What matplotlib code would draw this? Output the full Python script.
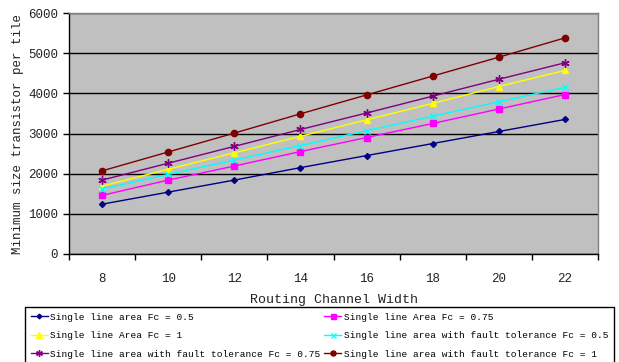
import matplotlib
matplotlib.use("Agg")
import matplotlib.pyplot as plt
from matplotlib.ticker import FixedLocator, NullFormatter

# Routing channel widths (categories on the x axis)
channel_width = [8, 10, 12, 14, 16, 18, 20, 22]

# Minimum size transistors per tile for each configuration
area_fc_05 = [1240, 1540, 1840, 2150, 2450, 2750, 3050, 3350]
area_fc_075 = [1460, 1840, 2190, 2550, 2900, 3250, 3610, 3970]
area_fc_1 = [1690, 2110, 2520, 2930, 3340, 3750, 4170, 4570]
ft_fc_05 = [1620, 1980, 2340, 2700, 3070, 3430, 3790, 4150]
ft_fc_075 = [1840, 2260, 2680, 3100, 3510, 3930, 4350, 4760]
ft_fc_1 = [2070, 2540, 3010, 3490, 3960, 4430, 4900, 5380]

series_labels = [
    "Single line area Fc = 0.5",
    "Single line Area Fc = 0.75",
    "Single line Area Fc = 1",
    "Single line area with fault tolerance Fc = 0.5",
    "Single line area with fault tolerance Fc = 0.75",
    "Single line area with fault tolerance Fc = 1",
]

FONT = "Liberation Mono"

fig = plt.figure(figsize=(6.19, 3.62), dpi=100)
ax = fig.add_axes([69 / 619, 1 - 254 / 362, (598 - 69) / 619, (254 - 13) / 362])
ax.set_facecolor("#C0C0C0")

x = list(range(len(channel_width)))
styles = [
    (area_fc_05, "#000080", "D", 3.0),
    (area_fc_075, "#FF00FF", "s", 4.5),
    (area_fc_1, "#FFFF00", "^", 5.0),
    (ft_fc_05, "#00FFFF", "x", 4.5),
    (ft_fc_075, "#800080", (6, 2, 0), 6.0),
    (ft_fc_1, "#800000", "o", 4.5),
]
handles = []
for (vals, col, mk, ms), lab in zip(styles, series_labels):
    h, = ax.plot(x, vals, color=col, marker=mk, markersize=ms, linewidth=1.0,
                 markeredgewidth=1.0, label=lab, zorder=3)
    handles.append(h)

ax.set_xlim(-0.5, len(x) - 0.5)
ax.set_ylim(0, 6000)
ax.set_yticks(range(0, 6001, 1000))
ax.yaxis.grid(True, color="black", linewidth=1.0)
ax.set_axisbelow(True)

ax.set_xticks(x)
ax.set_xticklabels([str(c) for c in channel_width])
ax.xaxis.set_minor_locator(FixedLocator([i - 0.5 for i in range(len(x) + 1)]))
ax.xaxis.set_minor_formatter(NullFormatter())
ax.tick_params(axis="x", which="major", length=0, pad=14)
ax.tick_params(axis="x", which="minor", length=4, width=1, direction="out", color="black")
ax.tick_params(axis="y", length=4, width=1, direction="out", pad=4)
for lbl in ax.get_xticklabels() + ax.get_yticklabels():
    lbl.set_fontfamily(FONT)
    lbl.set_fontsize(9)
    lbl.set_color("#222222")

for side in ("top", "right"):
    ax.spines[side].set_color("#808080")
    ax.spines[side].set_linewidth(1.0)
for side in ("left", "bottom"):
    ax.spines[side].set_color("black")
    ax.spines[side].set_linewidth(1.0)

ax.set_xlabel("Routing Channel Width", fontfamily=FONT, fontsize=9.5, labelpad=6, color="#222222")
fig.text(18 / 619, 1 - 134 / 362, "Minimum size transistor per tile", rotation=90,
         ha="center", va="center", fontfamily=FONT, fontsize=9, color="#222222")

# Legend entries run across rows: reorder for matplotlib's column-first fill
order = [0, 2, 4, 1, 3, 5]
leg = fig.legend(handles=[handles[i] for i in order], ncol=2, loc="upper left",
                 bbox_to_anchor=(25 / 619, 1 - 307 / 362),
                 prop={"family": FONT, "size": 6.8},
                 frameon=True, fancybox=False, edgecolor="black", framealpha=1.0,
                 handlelength=1.8, handletextpad=0.3, labelspacing=1.0,
                 borderpad=0.6, borderaxespad=0.0, columnspacing=0.35,
                 markerscale=0.8)
leg.get_frame().set_linewidth(1.0)

fig.savefig("out.png", dpi=100)
